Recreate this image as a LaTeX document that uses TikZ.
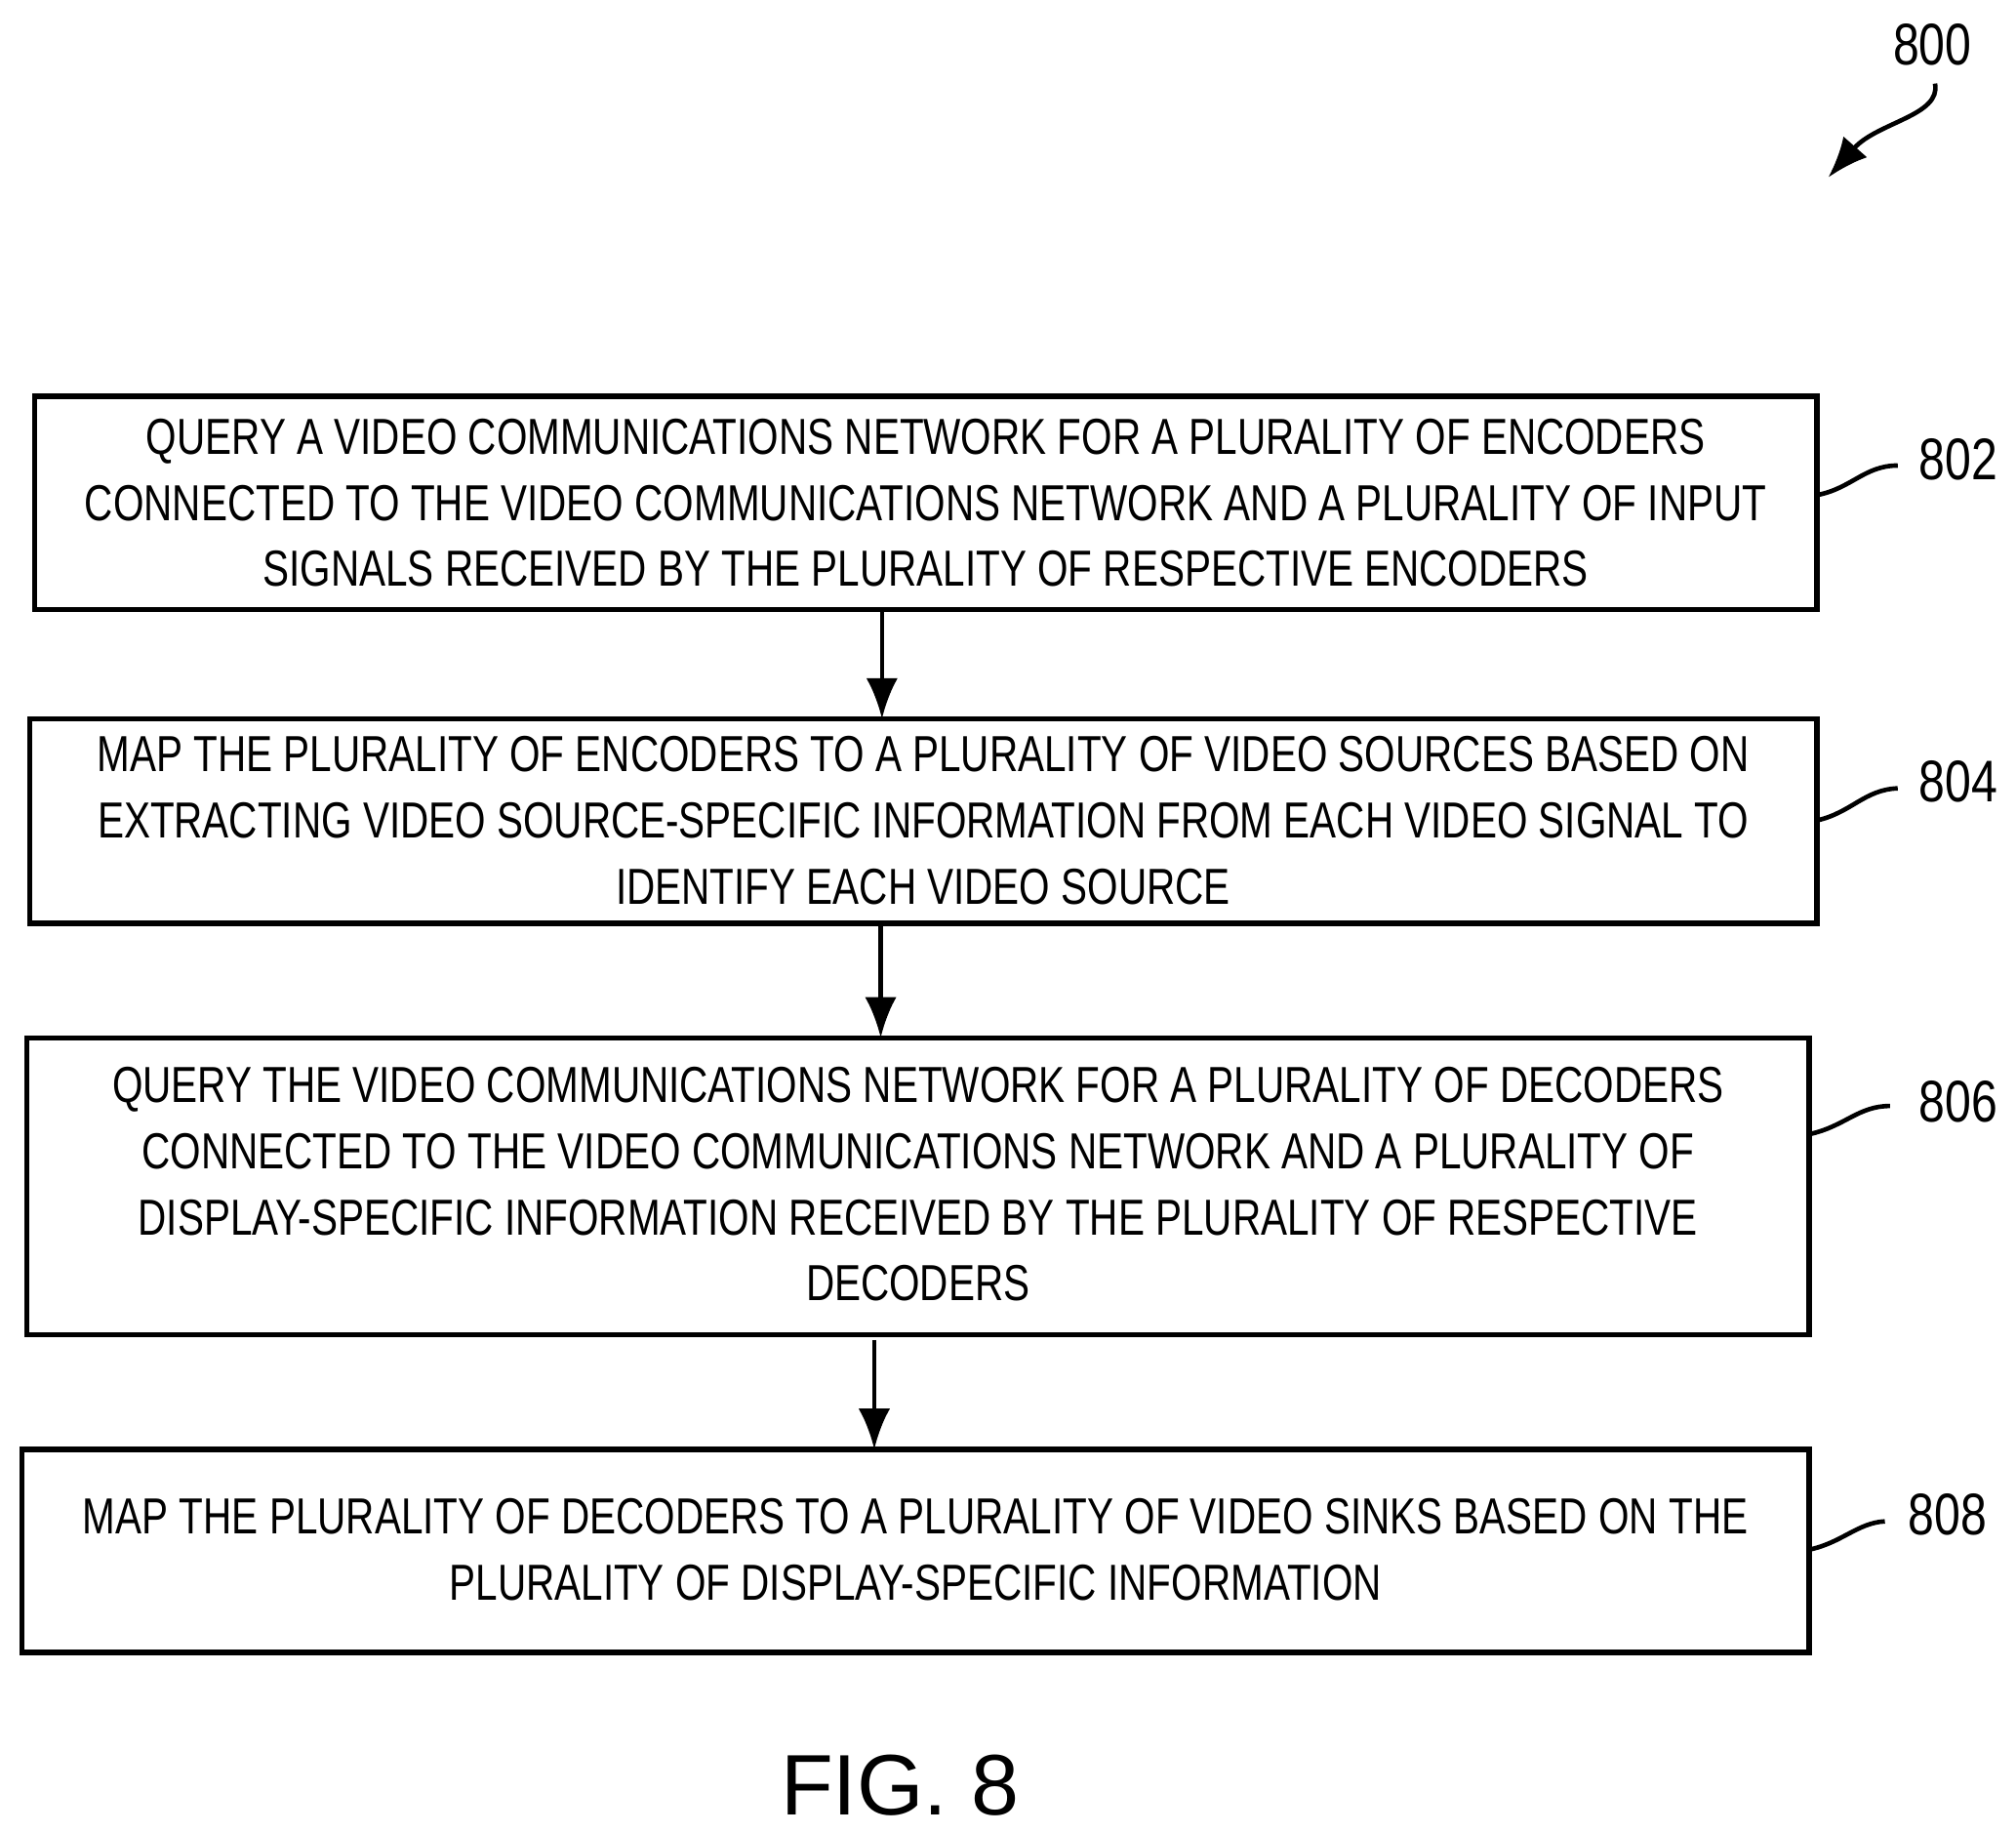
\documentclass[tikz,border=0pt]{standalone}
\usepackage{fontspec}
\usetikzlibrary{arrows.meta}
\setmainfont{Liberation Sans}[FakeStretch=0.78]
\newfontfamily\figfont{Liberation Sans}
\begin{document}
\begin{tikzpicture}[x=0.01cm,y=-0.01cm,
  box/.style={draw,line width=1.2pt,inner sep=0pt},
  txt/.style={align=center,font=\fontsize{11.2}{14.6}\selectfont},
  lbl/.style={font=\fontsize{13}{15}\selectfont\figfont\addfontfeatures{FakeStretch=0.8}},
  arr/.style={-{Latex[length=9pt,width=7pt]},line width=1pt},
  lead/.style={line width=1pt}]
\useasboundingbox (0,0) rectangle (1568,1425);
\draw[box] (27,308) rectangle (1413,474) coordinate (b1);
\node[txt] (t1) at (720,391) {QUERY A VIDEO COMMUNICATIONS NETWORK FOR A PLURALITY OF ENCODERS\\CONNECTED TO THE VIDEO COMMUNICATIONS NETWORK AND A PLURALITY OF INPUT\\SIGNALS RECEIVED BY THE PLURALITY OF RESPECTIVE ENCODERS};
\draw[box] (23,559) rectangle (1413,718);
\node[txt] (t2) at (718,638) {MAP THE PLURALITY OF ENCODERS TO A PLURALITY OF VIDEO SOURCES BASED ON\\EXTRACTING VIDEO SOURCE-SPECIFIC INFORMATION FROM EACH VIDEO SIGNAL TO\\IDENTIFY EACH VIDEO SOURCE};
\draw[box] (21,807) rectangle (1407,1038);
\node[txt] (t3) at (714,921) {QUERY THE VIDEO COMMUNICATIONS NETWORK FOR A PLURALITY OF DECODERS\\CONNECTED TO THE VIDEO COMMUNICATIONS NETWORK AND A PLURALITY OF\\DISPLAY-SPECIFIC INFORMATION RECEIVED BY THE PLURALITY OF RESPECTIVE\\DECODERS};
\draw[box] (17,1127) rectangle (1407,1285);
\node[txt] (t4) at (712,1205) {MAP THE PLURALITY OF DECODERS TO A PLURALITY OF VIDEO SINKS BASED ON THE\\PLURALITY OF DISPLAY-SPECIFIC INFORMATION};
\coordinate (a1) at (686,474); \coordinate (a2) at (686,559);
\coordinate (a3) at (685,718); \coordinate (a4) at (685,807);
\coordinate (a5) at (680,1042); \coordinate (a6) at (680,1127);
\draw[arr] (a1) -- (a2);
\draw[arr] (a3) -- (a4);
\draw[arr] (a5) -- (a6);
\node[lbl] (l1) at (1523,357) {802};
\node[lbl] (l2) at (1523,608) {804};
\node[lbl] (l3) at (1523,857) {806};
\node[lbl] (l4) at (1515,1178) {808};
\draw[lead] (1413,385) .. controls (1440,380) and (1450,362) .. (1476,362);
\draw[lead] (1413,638) .. controls (1440,632) and (1450,614) .. (1476,613);
\draw[lead] (1407,882) .. controls (1435,876) and (1445,860) .. (1470,860);
\draw[lead] (1407,1205) .. controls (1432,1200) and (1445,1184) .. (1466,1183);
\node[lbl] (l0) at (1503,35) {800};
\coordinate (c0) at (1505,65); \coordinate (c1) at (1422,138);
\draw[arr] (c0) .. controls (1510,90) and (1460,95) .. (c1);
\node[font=\fontsize{19}{22}\selectfont\figfont] (fig) at (700,1388) {FIG. 8};
\end{tikzpicture}
\end{document}
